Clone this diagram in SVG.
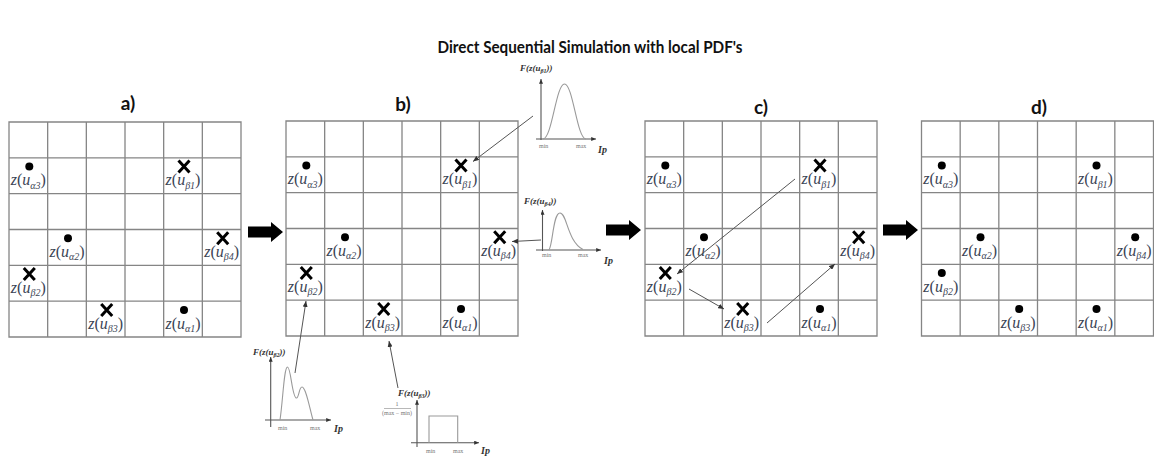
<svg xmlns="http://www.w3.org/2000/svg" xmlns:xlink="http://www.w3.org/1999/xlink" width="1154" height="460" viewBox="0 0 1154 460">
<style>
.grid{fill:none;stroke:#858585;stroke-width:1.3}
.lbl{font-family:"Liberation Serif",serif;font-size:16px;fill:#3b4455;text-anchor:middle}
.it{font-style:italic}
.sub{font-size:10px;font-style:italic}
.dot{fill:#000}
.xm{stroke:#000;stroke-width:3;fill:none}
.ptr{stroke:#555;stroke-width:1;fill:none;marker-end:url(#ah)}
.axis{stroke:#555;stroke-width:1.1;fill:none;marker-end:url(#ax)}
.curve{stroke:#9a9a9a;stroke-width:1.1;fill:none}
.flbl{font-family:"Liberation Serif",serif;font-size:9px;font-weight:bold;font-style:italic;fill:#333}
.fs{font-size:6px}
.tick{font-family:"Liberation Serif",serif;font-size:6px;fill:#777}
.ip{font-family:"Liberation Serif",serif;font-size:10px;font-weight:bold;font-style:italic;fill:#333}
.blk{fill:#000}
.title{font-family:Lato,"Liberation Sans",sans-serif;font-weight:700;font-size:17px;fill:#111}
.plbl{font-family:Lato,"Liberation Sans",sans-serif;font-weight:700;font-size:19px;fill:#111;text-anchor:middle}
</style>
<defs>
<marker id="ah" viewBox="0 0 6 5" markerWidth="6" markerHeight="5" refX="6" refY="2.5" orient="auto" markerUnits="userSpaceOnUse"><path d="M0,0L6,2.5L0,5z" fill="#333"/></marker>
<marker id="ax" viewBox="0 0 6 5" markerWidth="5" markerHeight="4" refX="6" refY="2.5" orient="auto" markerUnits="userSpaceOnUse"><path d="M0,0L6,2.5L0,5z" fill="#333"/></marker>
<path id="gridp" class="grid" d="M0,0H232V215H0Z M38.67,0V215 M77.33,0V215 M116,0V215 M154.67,0V215 M193.33,0V215 M0,35.83H232 M0,71.67H232 M0,107.5H232 M0,143.33H232 M0,179.17H232"/>
<circle id="dotm" class="dot" r="4"/>
<path id="xmk" class="xm" d="M-5.5,-6L5.5,6M5.5,-6L-5.5,6"/>
</defs>
<rect width="1154" height="460" fill="#fff"/>
<text class="title" x="590" y="53" text-anchor="middle" textLength="305" lengthAdjust="spacingAndGlyphs">Direct Sequential Simulation with local PDF's</text>
<text class="plbl" x="128" y="110">a)</text>
<text class="plbl" x="403" y="111">b)</text>
<text class="plbl" x="761" y="114">c)</text>
<text class="plbl" x="1039" y="114">d)</text>

<!-- Panel a -->
<g id="panel-a" transform="translate(9,122)">
<use href="#gridp"/>
<g id="a-ua3"><use href="#dotm" x="20.3" y="44.6"/><text class="lbl" x="19.3" y="63.1"><tspan class="it">z</tspan>(<tspan class="it">u</tspan><tspan class="sub" dy="3.5">α</tspan><tspan class="sub" font-style="normal">3</tspan><tspan dy="-3.5">)</tspan></text></g>
<g id="a-ub1"><use href="#xmk" x="175" y="44.6"/><text class="lbl" x="174" y="63.1"><tspan class="it">z</tspan>(<tspan class="it">u</tspan><tspan class="sub" dy="3.5">β</tspan><tspan class="sub" font-style="normal">1</tspan><tspan dy="-3.5">)</tspan></text></g>
<g id="a-ua2"><use href="#dotm" x="59" y="116.3"/><text class="lbl" x="58" y="134.8"><tspan class="it">z</tspan>(<tspan class="it">u</tspan><tspan class="sub" dy="3.5">α</tspan><tspan class="sub" font-style="normal">2</tspan><tspan dy="-3.5">)</tspan></text></g>
<g id="a-ub4"><use href="#xmk" x="213.7" y="116.3"/><text class="lbl" x="212.7" y="134.8"><tspan class="it">z</tspan>(<tspan class="it">u</tspan><tspan class="sub" dy="3.5">β</tspan><tspan class="sub" font-style="normal">4</tspan><tspan dy="-3.5">)</tspan></text></g>
<g id="a-ub2"><use href="#xmk" x="20.3" y="152.1"/><text class="lbl" x="19.3" y="170.6"><tspan class="it">z</tspan>(<tspan class="it">u</tspan><tspan class="sub" dy="3.5">β</tspan><tspan class="sub" font-style="normal">2</tspan><tspan dy="-3.5">)</tspan></text></g>
<g id="a-ub3"><use href="#xmk" x="97.7" y="188"/><text class="lbl" x="96.7" y="206.5"><tspan class="it">z</tspan>(<tspan class="it">u</tspan><tspan class="sub" dy="3.5">β</tspan><tspan class="sub" font-style="normal">3</tspan><tspan dy="-3.5">)</tspan></text></g>
<g id="a-ua1"><use href="#dotm" x="175" y="188"/><text class="lbl" x="174" y="206.5"><tspan class="it">z</tspan>(<tspan class="it">u</tspan><tspan class="sub" dy="3.5">α</tspan><tspan class="sub" font-style="normal">1</tspan><tspan dy="-3.5">)</tspan></text></g>
</g>

<!-- Panel b -->
<g id="panel-b" transform="translate(286,121)">
<use href="#gridp"/>
<g id="b-ua3"><use href="#dotm" x="20.3" y="44.6"/><text class="lbl" x="19.3" y="63.1"><tspan class="it">z</tspan>(<tspan class="it">u</tspan><tspan class="sub" dy="3.5">α</tspan><tspan class="sub" font-style="normal">3</tspan><tspan dy="-3.5">)</tspan></text></g>
<g id="b-ub1"><use href="#xmk" x="175" y="44.6"/><text class="lbl" x="174" y="63.1"><tspan class="it">z</tspan>(<tspan class="it">u</tspan><tspan class="sub" dy="3.5">β</tspan><tspan class="sub" font-style="normal">1</tspan><tspan dy="-3.5">)</tspan></text></g>
<g id="b-ua2"><use href="#dotm" x="59" y="116.3"/><text class="lbl" x="58" y="134.8"><tspan class="it">z</tspan>(<tspan class="it">u</tspan><tspan class="sub" dy="3.5">α</tspan><tspan class="sub" font-style="normal">2</tspan><tspan dy="-3.5">)</tspan></text></g>
<g id="b-ub4"><use href="#xmk" x="213.7" y="116.3"/><text class="lbl" x="212.7" y="134.8"><tspan class="it">z</tspan>(<tspan class="it">u</tspan><tspan class="sub" dy="3.5">β</tspan><tspan class="sub" font-style="normal">4</tspan><tspan dy="-3.5">)</tspan></text></g>
<g id="b-ub2"><use href="#xmk" x="20.3" y="152.1"/><text class="lbl" x="19.3" y="170.6"><tspan class="it">z</tspan>(<tspan class="it">u</tspan><tspan class="sub" dy="3.5">β</tspan><tspan class="sub" font-style="normal">2</tspan><tspan dy="-3.5">)</tspan></text></g>
<g id="b-ub3"><use href="#xmk" x="97.7" y="188"/><text class="lbl" x="96.7" y="206.5"><tspan class="it">z</tspan>(<tspan class="it">u</tspan><tspan class="sub" dy="3.5">β</tspan><tspan class="sub" font-style="normal">3</tspan><tspan dy="-3.5">)</tspan></text></g>
<g id="b-ua1"><use href="#dotm" x="175" y="188"/><text class="lbl" x="174" y="206.5"><tspan class="it">z</tspan>(<tspan class="it">u</tspan><tspan class="sub" dy="3.5">α</tspan><tspan class="sub" font-style="normal">1</tspan><tspan dy="-3.5">)</tspan></text></g>
</g>

<!-- Panel c -->
<g id="panel-c" transform="translate(645,121)">
<use href="#gridp"/>
<g id="c-ua3"><use href="#dotm" x="20.3" y="44.6"/><text class="lbl" x="19.3" y="63.1"><tspan class="it">z</tspan>(<tspan class="it">u</tspan><tspan class="sub" dy="3.5">α</tspan><tspan class="sub" font-style="normal">3</tspan><tspan dy="-3.5">)</tspan></text></g>
<g id="c-ub1"><use href="#xmk" x="175" y="44.6"/><text class="lbl" x="174" y="63.1"><tspan class="it">z</tspan>(<tspan class="it">u</tspan><tspan class="sub" dy="3.5">β</tspan><tspan class="sub" font-style="normal">1</tspan><tspan dy="-3.5">)</tspan></text></g>
<g id="c-ua2"><use href="#dotm" x="59" y="116.3"/><text class="lbl" x="58" y="134.8"><tspan class="it">z</tspan>(<tspan class="it">u</tspan><tspan class="sub" dy="3.5">α</tspan><tspan class="sub" font-style="normal">2</tspan><tspan dy="-3.5">)</tspan></text></g>
<g id="c-ub4"><use href="#xmk" x="213.7" y="116.3"/><text class="lbl" x="212.7" y="134.8"><tspan class="it">z</tspan>(<tspan class="it">u</tspan><tspan class="sub" dy="3.5">β</tspan><tspan class="sub" font-style="normal">4</tspan><tspan dy="-3.5">)</tspan></text></g>
<g id="c-ub2"><use href="#xmk" x="20.3" y="152.1"/><text class="lbl" x="19.3" y="170.6"><tspan class="it">z</tspan>(<tspan class="it">u</tspan><tspan class="sub" dy="3.5">β</tspan><tspan class="sub" font-style="normal">2</tspan><tspan dy="-3.5">)</tspan></text></g>
<g id="c-ub3"><use href="#xmk" x="97.7" y="188"/><text class="lbl" x="96.7" y="206.5"><tspan class="it">z</tspan>(<tspan class="it">u</tspan><tspan class="sub" dy="3.5">β</tspan><tspan class="sub" font-style="normal">3</tspan><tspan dy="-3.5">)</tspan></text></g>
<g id="c-ua1"><use href="#dotm" x="175" y="188"/><text class="lbl" x="174" y="206.5"><tspan class="it">z</tspan>(<tspan class="it">u</tspan><tspan class="sub" dy="3.5">α</tspan><tspan class="sub" font-style="normal">1</tspan><tspan dy="-3.5">)</tspan></text></g>
</g>

<!-- Panel d -->
<g id="panel-d" transform="translate(921.5,121)">
<use href="#gridp"/>
<g id="d-ua3"><use href="#dotm" x="20.3" y="44.6"/><text class="lbl" x="19.3" y="63.1"><tspan class="it">z</tspan>(<tspan class="it">u</tspan><tspan class="sub" dy="3.5">α</tspan><tspan class="sub" font-style="normal">3</tspan><tspan dy="-3.5">)</tspan></text></g>
<g id="d-ub1"><use href="#dotm" x="175" y="44.6"/><text class="lbl" x="174" y="63.1"><tspan class="it">z</tspan>(<tspan class="it">u</tspan><tspan class="sub" dy="3.5">β</tspan><tspan class="sub" font-style="normal">1</tspan><tspan dy="-3.5">)</tspan></text></g>
<g id="d-ua2"><use href="#dotm" x="59" y="116.3"/><text class="lbl" x="58" y="134.8"><tspan class="it">z</tspan>(<tspan class="it">u</tspan><tspan class="sub" dy="3.5">α</tspan><tspan class="sub" font-style="normal">2</tspan><tspan dy="-3.5">)</tspan></text></g>
<g id="d-ub4"><use href="#dotm" x="213.7" y="116.3"/><text class="lbl" x="212.7" y="134.8"><tspan class="it">z</tspan>(<tspan class="it">u</tspan><tspan class="sub" dy="3.5">β</tspan><tspan class="sub" font-style="normal">4</tspan><tspan dy="-3.5">)</tspan></text></g>
<g id="d-ub2"><use href="#dotm" x="20.3" y="152.1"/><text class="lbl" x="19.3" y="170.6"><tspan class="it">z</tspan>(<tspan class="it">u</tspan><tspan class="sub" dy="3.5">β</tspan><tspan class="sub" font-style="normal">2</tspan><tspan dy="-3.5">)</tspan></text></g>
<g id="d-ub3"><use href="#dotm" x="97.7" y="188"/><text class="lbl" x="96.7" y="206.5"><tspan class="it">z</tspan>(<tspan class="it">u</tspan><tspan class="sub" dy="3.5">β</tspan><tspan class="sub" font-style="normal">3</tspan><tspan dy="-3.5">)</tspan></text></g>
<g id="d-ua1"><use href="#dotm" x="175" y="188"/><text class="lbl" x="174" y="206.5"><tspan class="it">z</tspan>(<tspan class="it">u</tspan><tspan class="sub" dy="3.5">α</tspan><tspan class="sub" font-style="normal">1</tspan><tspan dy="-3.5">)</tspan></text></g>
</g>

<!-- PDF nodes -->
<g id="pdf-b1">
<path class="axis" d="M541,140V79"/>
<path class="axis" d="M536,139H596"/>
<path class="curve" d="M543,139C552,139 556,84 564.5,84C573,84 577,139 586,139"/>
<text class="flbl" x="520" y="71">F(z(u<tspan class="fs" dy="1.5">β1</tspan><tspan dy="-1.5">))</tspan></text>
<text class="tick" x="539" y="148">min</text>
<text class="tick" x="576" y="148">max</text>
<text class="ip" x="598" y="153">Ip</text>
</g>
<g id="pdf-b4">
<path class="axis" d="M542.5,251V210"/>
<path class="axis" d="M536,250H601"/>
<path class="curve" d="M549,250C553,244 553,213 560,213C567,213 567,241 583,249.5"/>
<text class="flbl" x="524" y="204">F(z(u<tspan class="fs" dy="1.5">β4</tspan><tspan dy="-1.5">))</tspan></text>
<text class="tick" x="542" y="257">min</text>
<text class="tick" x="578" y="257">max</text>
<text class="ip" x="604" y="264">Ip</text>
</g>
<g id="pdf-b2">
<path class="axis" d="M270.7,427V357"/>
<path class="axis" d="M265,420H331"/>
<path class="curve" d="M280,420C283,400 284,367 287.5,367C291,367 292,398 296.5,398C299,398 299,387 302,387C306,387 310,410 313,420"/>
<text class="flbl" x="253" y="355">F(z(u<tspan class="fs" dy="1.5">β2</tspan><tspan dy="-1.5">))</tspan></text>
<text class="tick" x="278" y="430">min</text>
<text class="tick" x="310" y="430">max</text>
<text class="ip" x="334" y="432">Ip</text>
</g>
<g id="pdf-b3">
<path class="axis" d="M417,447V400"/>
<path class="axis" d="M411,442.7H479"/>
<path class="curve" d="M429,442.7V416H457.7V442.7"/>
<text class="flbl" x="398" y="396">F(z(u<tspan class="fs" dy="1.5">β3</tspan><tspan dy="-1.5">))</tspan></text>
<text class="tick" x="397" y="406" text-anchor="middle">1</text>
<path d="M384,408.5H411" stroke="#888" stroke-width="0.6"/>
<text class="tick" x="397" y="415" text-anchor="middle" font-size="5.5">(max − min)</text>
<text class="tick" x="426" y="453">min</text>
<text class="tick" x="453" y="453">max</text>
<text class="ip" x="481" y="454">Ip</text>
</g>

<!-- Connectors -->
<g id="connectors">
<path class="blk" d="M248,226.5H271V222L283,232L271,242V237.5H248Z"/>
<path class="blk" d="M606,224.5H629V220L641,230L629,240V235.5H606Z"/>
<path class="blk" d="M883,224.5H906V220L918,230L906,240V235.5H883Z"/>
<path class="ptr" d="M533,116L473,161.5"/>
<path class="ptr" d="M541,240L512,241.5"/>
<path class="ptr" d="M295,373L306,301"/>
<path class="ptr" d="M398,388L389,341"/>
<path class="ptr" d="M795,179L677,274"/>
<path class="ptr" d="M689,289L724,309"/>
<path class="ptr" d="M767,323L835,264"/>
</g>
</svg>
